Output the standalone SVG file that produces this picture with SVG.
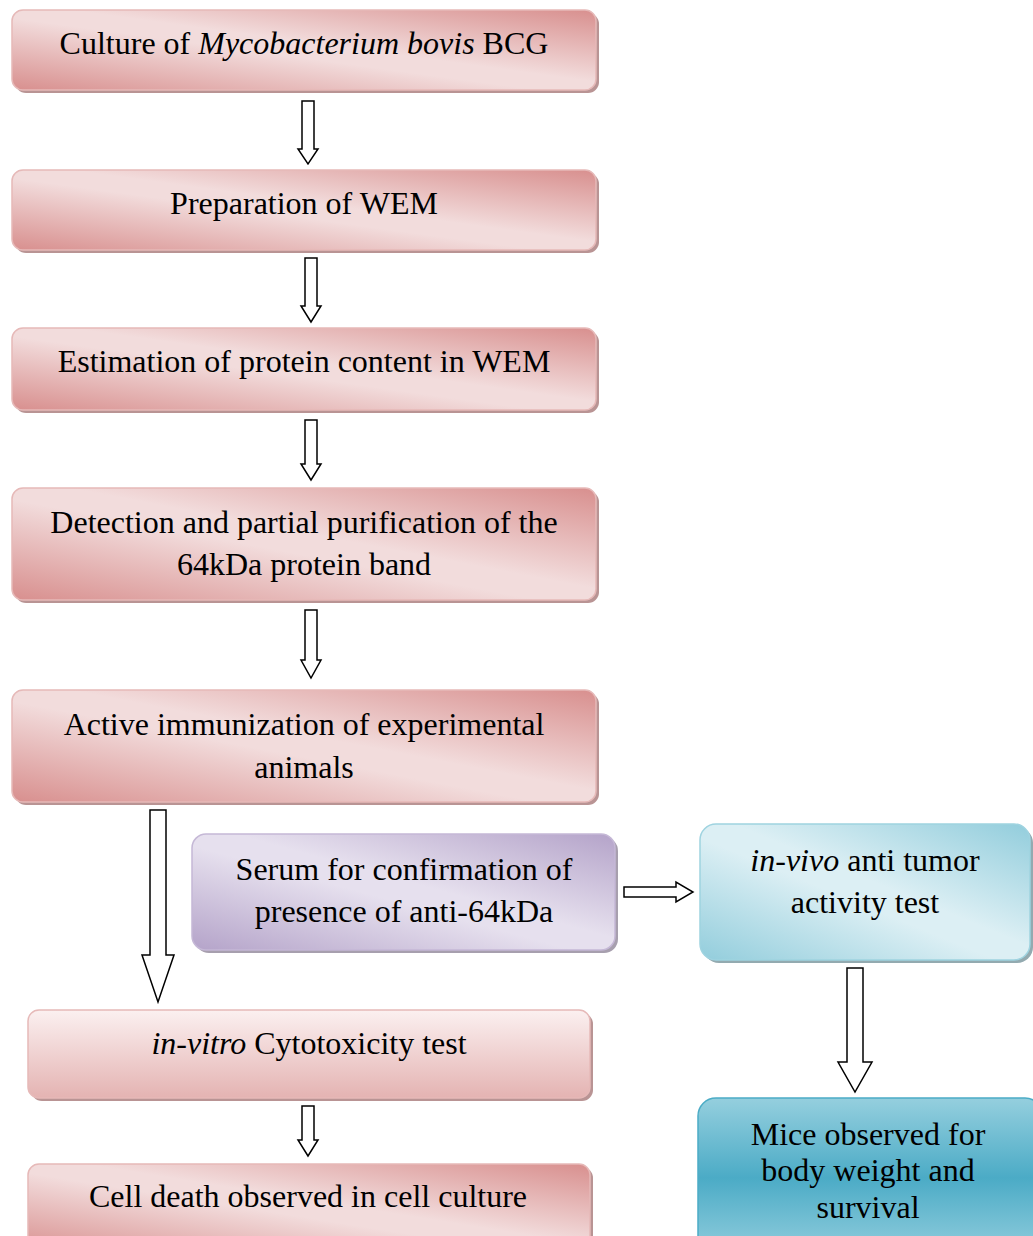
<svg xmlns="http://www.w3.org/2000/svg" width="1033" height="1236" viewBox="0 0 1033 1236">
<defs>
<linearGradient id="gPink" x1="0" y1="1" x2="1" y2="0">
<stop offset="0" stop-color="#d88f8e"/>
<stop offset="0.45" stop-color="#f2dcdc"/>
<stop offset="0.55" stop-color="#f2dcdc"/>
<stop offset="1" stop-color="#d88f8e"/>
</linearGradient>
<linearGradient id="gPinkV" x1="0" y1="0" x2="0" y2="1">
<stop offset="0" stop-color="#fbf0f0"/>
<stop offset="1" stop-color="#e4b3b2"/>
</linearGradient>
<linearGradient id="gPurple" x1="0" y1="1" x2="1" y2="0">
<stop offset="0" stop-color="#b4a3c9"/>
<stop offset="0.45" stop-color="#e6e0ee"/>
<stop offset="0.55" stop-color="#e6e0ee"/>
<stop offset="1" stop-color="#b4a3c9"/>
</linearGradient>
<linearGradient id="gBlue" x1="0" y1="1" x2="1" y2="0">
<stop offset="0" stop-color="#92cddc"/>
<stop offset="0.45" stop-color="#dcefF4"/>
<stop offset="0.55" stop-color="#dcefF4"/>
<stop offset="1" stop-color="#92cddc"/>
</linearGradient>
<linearGradient id="gTeal" x1="0" y1="0" x2="0" y2="1">
<stop offset="0" stop-color="#95cfde"/>
<stop offset="0.5" stop-color="#4babc6"/>
<stop offset="1" stop-color="#95cfde"/>
</linearGradient>
</defs>
<style>
.t{font-family:"Liberation Serif","Times New Roman",serif;font-size:32px;fill:#000;text-anchor:middle}
.i{font-style:italic}
.sp{fill:#b99494}
.su{fill:#a79fae}
.sb{fill:#93aab0}
.bp{stroke:#e6b9b8;stroke-width:1.5}
.bu{stroke:#c5b8d6;stroke-width:1.5}
.bb{stroke:#9fd3e0;stroke-width:1.5}
.bt{stroke:#4bacc6;stroke-width:1.5}
.ar{fill:#fff;stroke:#000;stroke-width:1.5;stroke-linejoin:miter}
</style>
<g id="n1">
<rect class="sp" x="15" y="13" width="584" height="80" rx="11"/>
<rect class="bp" x="12" y="10" width="584" height="80" rx="11" fill="url(#gPink)"/>
<text class="t" x="304" y="54">Culture of <tspan class="i">Mycobacterium bovis</tspan> BCG</text>
</g>
<g id="n2">
<rect class="sp" x="15" y="173" width="584" height="80" rx="11"/>
<rect class="bp" x="12" y="170" width="584" height="80" rx="11" fill="url(#gPink)"/>
<text class="t" x="304" y="214">Preparation of WEM</text>
</g>
<g id="n3">
<rect class="sp" x="15" y="331" width="584" height="82" rx="11"/>
<rect class="bp" x="12" y="328" width="584" height="82" rx="11" fill="url(#gPink)"/>
<text class="t" x="304" y="372">Estimation of protein content in WEM</text>
</g>
<g id="n4">
<rect class="sp" x="15" y="491" width="584" height="112" rx="11"/>
<rect class="bp" x="12" y="488" width="584" height="112" rx="11" fill="url(#gPink)"/>
<text class="t" x="304" y="533">Detection and partial purification of the</text>
<text class="t" x="304" y="575">64kDa protein band</text>
</g>
<g id="n5">
<rect class="sp" x="15" y="693" width="584" height="112" rx="11"/>
<rect class="bp" x="12" y="690" width="584" height="112" rx="11" fill="url(#gPink)"/>
<text class="t" x="304" y="735">Active immunization of experimental</text>
<text class="t" x="304" y="778">animals</text>
</g>
<g id="n6">
<rect class="su" x="195" y="837" width="423" height="116" rx="14"/>
<rect class="bu" x="192" y="834" width="423" height="116" rx="14" fill="url(#gPurple)"/>
<text class="t" x="404" y="880">Serum for confirmation of</text>
<text class="t" x="404" y="922">presence of anti-64kDa</text>
</g>
<g id="n7">
<rect class="sb" x="703" y="827" width="330" height="136" rx="16"/>
<rect class="bb" x="700" y="824" width="330" height="136" rx="16" fill="url(#gBlue)"/>
<text class="t" x="865" y="871"><tspan class="i">in-vivo</tspan> anti tumor</text>
<text class="t" x="865" y="913">activity test</text>
</g>
<g id="n8">
<rect class="sp" x="31" y="1013" width="562" height="88" rx="11"/>
<rect class="bp" x="28" y="1010" width="562" height="88" rx="11" fill="url(#gPinkV)"/>
<text class="t" x="309" y="1054"><tspan class="i">in-vitro</tspan> Cytotoxicity test</text>
</g>
<g id="n9">
<rect class="sp" x="31" y="1167" width="562" height="90" rx="11"/>
<rect class="bp" x="28" y="1164" width="562" height="90" rx="11" fill="url(#gPink)"/>
<text class="t" x="308" y="1207">Cell death observed in cell culture</text>
</g>
<g id="n10">
<rect class="bt" x="698" y="1098" width="345" height="160" rx="18" fill="url(#gTeal)"/>
<text class="t" x="868" y="1145">Mice observed for</text>
<text class="t" x="868" y="1181">body weight and</text>
<text class="t" x="868" y="1218">survival</text>
</g>
<g id="connectors">
<path class="ar" d="M302,101 H314 V149 H318 L308,164 L298,149 H302 Z"/>
<path class="ar" d="M305,258 H317 V306 H321 L311,322 L301,306 H305 Z"/>
<path class="ar" d="M305,420 H317 V464 H321 L311,480 L301,464 H305 Z"/>
<path class="ar" d="M305,610 H317 V660 H321 L311,678 L301,660 H305 Z"/>
<path class="ar" d="M150,810 H166 V955 H174 L158,1002 L142,955 H150 Z"/>
<path class="ar" d="M624,887 H676 V882 L693,892 L676,902 V897 H624 Z"/>
<path class="ar" d="M847,968 H863 V1062 H872 L855,1092 L838,1062 H847 Z"/>
<path class="ar" d="M302,1106 H314 V1140 H318 L308,1156 L298,1140 H302 Z"/>
</g>
</svg>
